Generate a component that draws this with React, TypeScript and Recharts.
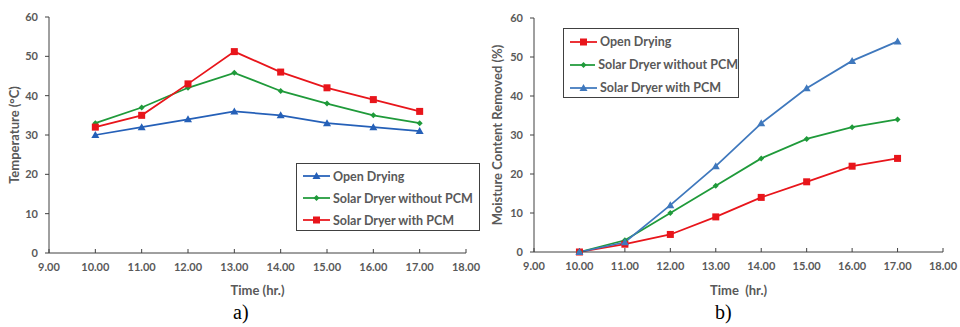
import React from 'react';
import { LineChart, Line, XAxis, YAxis, Legend } from 'recharts';

const hours = [10, 11, 12, 13, 14, 15, 16, 17];
const xTicks = [9, 10, 11, 12, 13, 14, 15, 16, 17, 18];
const yTicks = [0, 10, 20, 30, 40, 50, 60];
const seriesNames = ['Open Drying', 'Solar Dryer without PCM', 'Solar Dryer with PCM'];

// a) temperature
const tempOpen = [30, 32, 34, 36, 35, 33, 32, 31];
const tempNoPcm = [33, 37, 42, 45.8, 41.2, 38, 35, 33];
const tempPcm = [32, 35, 43, 51.2, 46, 42, 39, 36];

// b) moisture removed
const moistOpen = [0, 2, 4.5, 9, 14, 18, 22, 24];
const moistNoPcm = [0, 3, 10, 17, 24, 29, 32, 34];
const moistPcm = [0, 2.5, 12, 22, 33, 42, 49, 54];

const FONT = 'Lato, "Open Sans", sans-serif';
const GREY = '#595959';
const AXIS = '#404040';

type Shape = 'triangle' | 'diamond' | 'square';

function Marker({ cx, cy, color, shape }: { cx: number; cy: number; color: string; shape: Shape }) {
  if (cx == null || cy == null) return null;
  if (shape === 'square') {
    return <rect x={cx - 3.5} y={cy - 3.5} width={7} height={7} fill={color} />;
  }
  if (shape === 'triangle') {
    return <polygon points={`${cx},${cy - 4} ${cx + 4},${cy + 3} ${cx - 4},${cy + 3}`} fill={color} />;
  }
  return <polygon points={`${cx},${cy - 3} ${cx + 3},${cy} ${cx},${cy + 3} ${cx - 3},${cy}`} fill={color} />;
}

const dotOf = (color: string, shape: Shape) => (p: any) => (
  <Marker key={`d-${p.index}`} cx={p.cx} cy={p.cy} color={color} shape={shape} />
);

// shapes given in seriesNames order
function makeLegend(shapes: Shape[], rowH: number, lineW: number) {
  return (props: any) => {
    const items = [...(props.payload || [])].sort(
      (a: any, b: any) => seriesNames.indexOf(a.value) - seriesNames.indexOf(b.value)
    );
    return (
      <div style={{ paddingTop: 1 }}>
        {items.map((e: any) => (
          <div key={e.value} style={{ display: 'flex', alignItems: 'center', height: rowH }}>
            <svg width={lineW} height={10} style={{ marginLeft: 6, marginRight: 3 }}>
              <line x1={0} y1={5} x2={lineW} y2={5} stroke={e.color} strokeWidth={1.75} />
              <Marker cx={lineW / 2} cy={5} color={e.color} shape={shapes[seriesNames.indexOf(e.value)]} />
            </svg>
            <span style={{ fontFamily: FONT, fontWeight: 700, fontSize: 12.5, color: GREY, whiteSpace: 'nowrap' }}>
              {e.value}
            </span>
          </div>
        ))}
      </div>
    );
  };
}

const tempData = hours.map((h, i) => ({ t: h, open: tempOpen[i], noPcm: tempNoPcm[i], pcm: tempPcm[i] }));
const moistData = hours.map((h, i) => ({ t: h, open: moistOpen[i], noPcm: moistNoPcm[i], pcm: moistPcm[i] }));

const tickStyle = { fontFamily: FONT, fontWeight: 700, fontSize: 11, fill: GREY };
const labelStyle = { fontFamily: FONT, fontWeight: 700, fontSize: 13, fill: GREY };

export default function App() {
  return (
    <div style={{ position: 'absolute', left: 0, top: 0, width: 960, height: 327, background: '#fff' }}>
      <div style={{ position: 'absolute', left: 0, top: 0 }}>
        <LineChart width={500} height={300} data={tempData} margin={{ top: 17, right: 34, bottom: 0, left: 0 }}>
          <XAxis
            dataKey="t"
            type="number"
            domain={[9, 18]}
            ticks={xTicks}
            tickFormatter={(v: number) => v.toFixed(2)}
            height={47}
            stroke={AXIS}
            tickSize={-4}
            tickMargin={14}
            tick={tickStyle}
            label={{ value: 'Time (hr.)', position: 'insideBottom', offset: 5, style: labelStyle }}
          />
          <YAxis
            domain={[0, 60]}
            ticks={yTicks}
            width={49}
            stroke={AXIS}
            tickSize={4}
            tickMargin={7}
            tick={tickStyle}
            label={{ value: 'Temperature (°C)', angle: -90, position: 'center', dx: -10, style: labelStyle }}
          />
          <Legend
            layout="vertical"
            align="center"
            verticalAlign="middle"
            content={makeLegend(['triangle', 'diamond', 'square'], 22, 27)}
            wrapperStyle={{ left: 296, top: 163, width: 182, height: 66, border: '1.5px solid #404040', background: '#fff' }}
          />
          <Line dataKey="open" name={seriesNames[0]} stroke="#2560b8" strokeWidth={1.75} dot={dotOf('#2560b8', 'triangle')} isAnimationActive={false} />
          <Line dataKey="noPcm" name={seriesNames[1]} stroke="#1f9a3a" strokeWidth={1.75} dot={dotOf('#1f9a3a', 'diamond')} isAnimationActive={false} />
          <Line dataKey="pcm" name={seriesNames[2]} stroke="#e8151b" strokeWidth={1.75} dot={dotOf('#e8151b', 'square')} isAnimationActive={false} />
        </LineChart>
      </div>
      <div style={{ position: 'absolute', left: 480, top: 0 }}>
        <LineChart width={480} height={300} data={moistData} margin={{ top: 18, right: 17, bottom: 0, left: 0 }}>
          <XAxis
            dataKey="t"
            type="number"
            domain={[9, 18]}
            ticks={xTicks}
            tickFormatter={(v: number) => v.toFixed(2)}
            height={48}
            stroke={AXIS}
            tickSize={-4}
            tickMargin={14}
            tick={tickStyle}
            label={{ value: 'Time\u00a0\u00a0(hr.)', position: 'insideBottom', offset: 5, style: labelStyle }}
          />
          <YAxis
            domain={[0, 60]}
            ticks={yTicks}
            width={54}
            stroke={AXIS}
            tickSize={4}
            tickMargin={7}
            tick={tickStyle}
            label={{ value: 'Moisture Content Removed (%)', angle: -90, position: 'center', dx: -10, style: labelStyle }}
          />
          <Legend
            layout="vertical"
            align="center"
            verticalAlign="middle"
            content={makeLegend(['square', 'diamond', 'triangle'], 23, 27)}
            wrapperStyle={{ left: 83, top: 28, width: 174, height: 68, border: '1.5px solid #404040', background: '#fff' }}
          />
          <Line dataKey="open" name={seriesNames[0]} stroke="#e8151b" strokeWidth={1.75} dot={dotOf('#e8151b', 'square')} isAnimationActive={false} />
          <Line dataKey="noPcm" name={seriesNames[1]} stroke="#1f9a3a" strokeWidth={1.75} dot={dotOf('#1f9a3a', 'diamond')} isAnimationActive={false} />
          <Line dataKey="pcm" name={seriesNames[2]} stroke="#3f78bd" strokeWidth={1.75} dot={dotOf('#3f78bd', 'triangle')} isAnimationActive={false} />
        </LineChart>
      </div>
      <div style={{ position: 'absolute', left: 233, top: 300, fontFamily: '"Liberation Serif", serif', fontSize: 20, lineHeight: '24px' }}>a)</div>
      <div style={{ position: 'absolute', left: 715, top: 300, fontFamily: '"Liberation Serif", serif', fontSize: 20, lineHeight: '24px' }}>b)</div>
    </div>
  );
}
